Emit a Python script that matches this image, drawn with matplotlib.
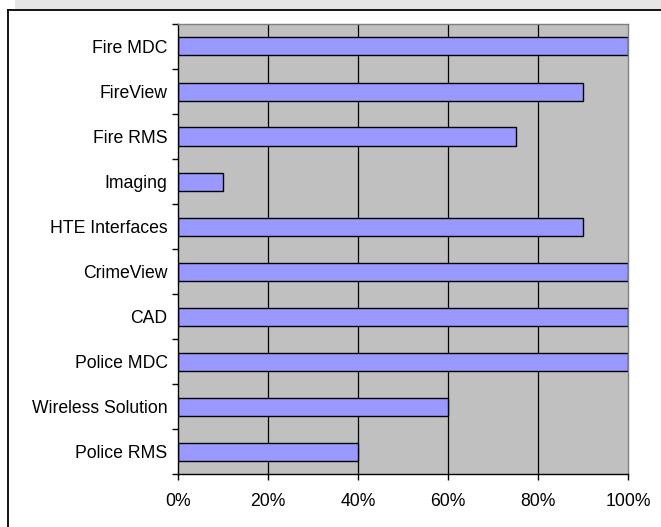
import numpy as np
import matplotlib.pyplot as plt
from matplotlib.patches import Rectangle
from matplotlib.lines import Line2D
from matplotlib.ticker import FixedLocator, PercentFormatter

plt.rcParams['font.family'] = ['Liberation Sans', 'DejaVu Sans']

# categories from bottom to top
categories = ['Police RMS', 'Wireless Solution', 'Police MDC', 'CAD', 'CrimeView',
              'HTE Interfaces', 'Imaging', 'Fire RMS', 'FireView', 'Fire MDC']
values = [40, 60, 100, 100, 100, 90, 10, 75, 90, 100]
xticks = [0, 20, 40, 60, 80, 100]

W, H = 661, 527
fig = plt.figure(figsize=(W / 100, H / 100), dpi=100)
fig.patch.set_facecolor('white')

# grey band on top and black frame (left + top)
fig.add_artist(Rectangle((15 / W, 1 - 9 / H), 1 - 15 / W, 9 / H,
                         transform=fig.transFigure, facecolor='#e6e6e6', edgecolor='none'))
fig.add_artist(Line2D([7.5 / W, 1], [1 - 9.5 / H, 1 - 9.5 / H],
                      transform=fig.transFigure, color='black', lw=1.3))
fig.add_artist(Line2D([7.5 / W, 7.5 / W], [0, 1 - 9.5 / H],
                      transform=fig.transFigure, color='black', lw=1.3))

ax = fig.add_axes([178 / W, 1 - 474 / H, 450 / W, 450 / H])
ax.set_facecolor('#c0c0c0')

y = np.arange(len(categories))
ax.barh(y, values, height=0.4, color='#9999ff', edgecolor='black', linewidth=1.0, zorder=3)

ax.set_xlim(0, 100)
ax.set_ylim(-0.5, len(categories) - 0.5)
ax.set_xticks(xticks)
ax.xaxis.set_major_formatter(PercentFormatter(decimals=0))
ax.set_yticks(y)
ax.set_yticklabels(categories)
ax.yaxis.set_minor_locator(FixedLocator(np.arange(-0.5, len(categories), 1)))

ax.tick_params(axis='y', which='major', length=0, pad=7.5, labelsize=12.7)
ax.tick_params(axis='y', which='minor', length=4, width=1, color='black', direction='out')
ax.tick_params(axis='x', which='major', length=4, width=1, direction='out', pad=10, labelsize=12.7)

for v in xticks[1:-1]:
    ax.axvline(v, color='black', lw=0.9, zorder=2)

ax.spines['left'].set_color('black')
ax.spines['bottom'].set_color('black')
ax.spines['top'].set_color('#808080')
ax.spines['right'].set_color('#808080')
for s in ax.spines.values():
    s.set_linewidth(1.0)
    s.set_zorder(4)

fig.savefig('out.png', dpi=100)
